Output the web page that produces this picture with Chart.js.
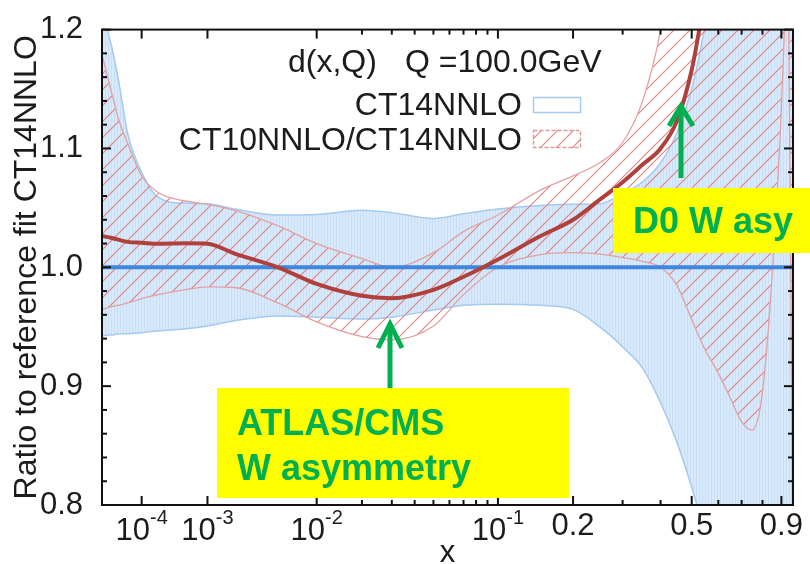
<!DOCTYPE html>
<html>
<head>
<meta charset="utf-8">
<script src="https://cdn.jsdelivr.net/npm/chart.js@4.4.1/dist/chart.umd.min.js"></script>
<style>
  html, body { margin: 0; padding: 0; background: #fff; }
  #wrap { width: 810px; height: 564px; }
</style>
</head>
<body>
<div id="wrap"><canvas id="chartCanvas" width="810" height="564"></canvas></div>
<script>
// x grid shared by both uncertainty bands
const xGrid = [1e-5, 1.5e-5, 2e-5, 3e-5, 5e-5, 1e-4, 2e-4, 5e-4, 1e-3, 2e-3, 5e-3, 1e-2, 2e-2, 3e-2, 5e-2, 7e-2,
  0.1, 0.15, 0.2, 0.25, 0.3, 0.35, 0.4, 0.45, 0.5, 0.55, 0.6, 0.65, 0.7, 0.75, 0.8, 0.85, 0.9, 0.93, 0.966];

// CT14NNLO error band (blue)
const ct14Upper = [1.24, 1.20, 1.185, 1.158, 1.113, 1.080, 1.059, 1.054, 1.0535, 1.049, 1.044, 1.0445, 1.048, 1.046, 1.041, 1.045,
  1.049, 1.052, 1.053, 1.0535, 1.062, 1.072, 1.088, 1.113, 1.150, 1.205, 1.27, 1.33, 1.40, 1.45, 1.50, 1.50, 1.50, 1.50, 1.50];
const ct14Lower = [0.942, 0.943, 0.943, 0.944, 0.944, 0.945, 0.9465, 0.948, 0.9506, 0.955, 0.959, 0.958, 0.9564, 0.958, 0.964, 0.968,
  0.969, 0.968, 0.9646, 0.9498, 0.933, 0.915, 0.886, 0.853, 0.815, 0.775, 0.74, 0.70, 0.70, 0.70, 0.70, 0.70, 0.70, 0.70, 0.70];

// CT10NNLO/CT14NNLO band (red hatched)
const ct10Upper = [1.179, 1.16, 1.146, 1.125, 1.1045, 1.077, 1.063, 1.056, 1.053, 1.048, 1.035, 1.020, 1.0074, 1.000, 1.0123, 1.030,
  1.044, 1.065, 1.077, 1.088, 1.105, 1.14, 1.20, 1.30, 1.40, 1.40, 1.40, 1.40, 1.40, 1.40, 1.40, 1.40, 1.40, 1.40, 0.70];
const ct10Lower = [0.9646, 0.966, 0.967, 0.968, 0.970, 0.9737, 0.977, 0.981, 0.9835, 0.983, 0.970, 0.954, 0.9416, 0.939, 0.9506, 0.977,
  1.000, 1.0107, 1.0123, 1.011, 1.0082, 1.005, 1.000, 0.985, 0.956, 0.930, 0.911, 0.890, 0.870, 0.863, 0.895, 0.993, 1.133, 1.25, 1.35];

// central CT10NNLO/CT14NNLO ratio
const centralX = [1e-5, 2e-5, 5e-5, 1e-4, 2e-4, 5e-4, 1e-3, 2e-3, 5e-3, 1e-2, 2e-2, 3e-2, 5e-2, 7e-2,
  0.1, 0.15, 0.2, 0.25, 0.3, 0.35, 0.4, 0.45, 0.5, 0.55];
const centralY = [1.0263, 1.0247, 1.0214, 1.0206, 1.0198, 1.0202, 1.0198, 1.0115, 1.000, 0.986, 0.976, 0.974, 0.981, 0.992,
  1.0066, 1.0263, 1.040, 1.057, 1.0716, 1.0864, 1.100, 1.123, 1.166, 1.23];

// reference line
const refX = [1e-5, 0.966];
const refY = [1.0, 1.0];

// axes
const X_MIN = 1e-5, X_MAX = 0.966;
const xTickVals = [1e-4, 1e-3, 1e-2, 0.1, 0.2, 0.5, 0.9];
const xTickLabels = [['10', '-4'], ['10', '-3'], ['10', '-2'], ['10', '-1'], ['0.2'], ['0.5'], ['0.9']];
const xMinorVals = [0.02, 0.03, 0.04, 0.05, 0.06, 0.07, 0.08, 0.09, 0.3, 0.4, 0.6, 0.7, 0.8];
const yMajorStep = 0.1, yMinorStep = 0.02;

// the horizontal axis is x^0.22
const POW = 0.22;
const tx = v => Math.pow(v, POW);
const pts = (xs, ys) => xs.map((v, i) => ({ x: tx(v), y: ys[i] }));

const FONT = '"Liberation Sans", Arial, sans-serif';
const TEXT = '#1c1c1c';

const canvas = document.getElementById('chartCanvas');
const ctx = canvas.getContext('2d');

function bluePattern() {
  const c = document.createElement('canvas');
  c.width = 3; c.height = 3;
  const g = c.getContext('2d');
  g.fillStyle = '#d7e9fa';
  g.fillRect(0, 0, 3, 3);
  g.fillStyle = '#c9dff5';
  g.fillRect(0, 0, 1, 3);
  return ctx.createPattern(c, 'repeat');
}

function hatchPattern() {
  const s = 16;
  const c = document.createElement('canvas');
  c.width = s; c.height = s;
  const g = c.getContext('2d');
  g.strokeStyle = 'rgb(226,128,128)';
  g.lineWidth = 1.1;
  g.beginPath();
  g.moveTo(-2, s + 2); g.lineTo(s + 2, -2);
  g.moveTo(-2, 2); g.lineTo(2, -2);
  g.moveTo(s - 2, s + 2); g.lineTo(s + 2, s - 2);
  g.stroke();
  return ctx.createPattern(c, 'repeat');
}

const hatch = hatchPattern();

const decor = {
  id: 'decor',
  afterDraw(chart) {
    const c = chart.ctx;
    const a = chart.chartArea;
    const xs = chart.scales.x, ys = chart.scales.y;
    c.save();

    // frame
    c.strokeStyle = '#111';
    c.lineWidth = 2;
    c.strokeRect(a.left, a.top, a.right - a.left, a.bottom - a.top);

    // inward ticks
    const tick = (x1, y1, x2, y2) => { c.beginPath(); c.moveTo(x1, y1); c.lineTo(x2, y2); c.stroke(); };
    xTickVals.forEach(v => {
      const p = xs.getPixelForValue(tx(v));
      tick(p, a.bottom, p, a.bottom - 9);
      tick(p, a.top, p, a.top + 9);
    });
    xMinorVals.forEach(v => {
      const p = xs.getPixelForValue(tx(v));
      tick(p, a.bottom, p, a.bottom - 5);
      tick(p, a.top, p, a.top + 5);
    });
    for (let v = ys.min; v <= ys.max + 1e-9; v += yMinorStep) {
      const p = ys.getPixelForValue(v);
      const major = Math.abs(v / yMajorStep - Math.round(v / yMajorStep)) < 1e-6;
      const l = major ? 9 : 5;
      tick(a.left, p, a.left + l, p);
      tick(a.right, p, a.right - l, p);
    }

    // x tick labels with superscripts
    c.fillStyle = TEXT;
    c.textBaseline = 'alphabetic';
    xTickVals.forEach((v, i) => {
      const p = xs.getPixelForValue(tx(v));
      const lab = xTickLabels[i];
      c.font = '31px ' + FONT;
      if (lab.length === 1) {
        c.textAlign = 'center';
        c.fillText(lab[0], p, 535);
      } else {
        const wb = c.measureText(lab[0]).width;
        c.font = '20px ' + FONT;
        const we = c.measureText(lab[1]).width;
        const left = p - (wb + we) / 2;
        c.textAlign = 'left';
        c.font = '31px ' + FONT;
        c.fillText(lab[0], left, 540);
        c.font = '20px ' + FONT;
        c.fillText(lab[1], left + wb, 524);
      }
    });

    // x axis title
    c.font = '31px ' + FONT;
    c.textAlign = 'center';
    c.fillText('x', (a.left + a.right) / 2, 562);

    // legend
    c.font = '32px ' + FONT;
    c.textAlign = 'left';
    c.fillText('d(x,Q)', 288, 72);
    c.fillText('Q =100.0GeV', 405, 72);
    c.textAlign = 'right';
    c.fillText('CT14NNLO', 522, 115);
    c.fillText('CT10NNLO/CT14NNLO', 522, 150);
    c.strokeStyle = '#a6cbf0';
    c.lineWidth = 1.5;
    c.strokeRect(533.5, 97.5, 47, 15);
    c.fillStyle = hatch;
    c.fillRect(533, 130, 48, 18);
    c.setLineDash([4, 2]);
    c.strokeStyle = '#dc9a9a';
    c.strokeRect(533.5, 130.5, 47, 17);
    c.setLineDash([]);

    // annotations
    const green = '#00b050';
    c.fillStyle = '#ffff00';
    c.fillRect(217, 388, 352, 110);
    c.fillRect(613, 188, 197, 65);
    c.fillStyle = green;
    c.font = 'bold 36px ' + FONT;
    c.textAlign = 'left';
    c.fillText('ATLAS/CMS', 237, 435);
    c.fillText('W asymmetry', 237, 480);
    c.fillText('D0 W asy', 633, 233);

    c.strokeStyle = green;
    c.lineWidth = 5;
    c.lineCap = 'butt';
    c.lineJoin = 'miter';
    tick(390, 388, 390, 326);
    c.beginPath(); c.moveTo(378, 348); c.lineTo(390, 324); c.lineTo(402, 348); c.stroke();
    tick(681, 178, 681, 110);
    c.beginPath(); c.moveTo(669, 126); c.lineTo(681, 106); c.lineTo(693, 126); c.stroke();

    c.restore();
  }
};

new Chart(ctx, {
  type: 'line',
  data: {
    datasets: [
      { label: 'CT14 upper', data: pts(xGrid, ct14Upper), fill: '+1', backgroundColor: bluePattern(),
        borderColor: '#a3caf0', borderWidth: 1.5, order: 6 },
      { label: 'CT14 lower', data: pts(xGrid, ct14Lower), fill: false,
        borderColor: '#a3caf0', borderWidth: 1.5, order: 5 },
      { label: 'CT10 upper', data: pts(xGrid, ct10Upper), fill: '+1', backgroundColor: hatch,
        borderColor: '#e3a0a0', borderWidth: 1.3, order: 4 },
      { label: 'CT10 lower', data: pts(xGrid, ct10Lower), fill: false,
        borderColor: '#e3a0a0', borderWidth: 1.3, order: 3 },
      { label: 'ref', data: pts(refX, refY), fill: false, borderColor: '#3f86e0', borderWidth: 4, order: 2 },
      { label: 'CT10NNLO/CT14NNLO', data: pts(centralX, centralY), fill: false,
        borderColor: '#b0403b', borderWidth: 4, order: 1 }
    ]
  },
  options: {
    responsive: false,
    devicePixelRatio: 1,
    animation: false,
    layout: { padding: { top: 19, right: 17, left: 0, bottom: 0 } },
    elements: {
      point: { radius: 0, hoverRadius: 0 },
      line: { cubicInterpolationMode: 'monotone' }
    },
    plugins: { legend: { display: false }, tooltip: { enabled: false } },
    scales: {
      x: {
        type: 'linear',
        min: tx(X_MIN),
        max: tx(X_MAX),
        ticks: { display: false },
        grid: { display: false },
        border: { display: false },
        afterFit: s => { s.height = 59; }
      },
      y: {
        type: 'linear',
        min: 0.8,
        max: 1.2,
        ticks: {
          stepSize: yMajorStep,
          padding: 11,
          color: TEXT,
          font: { family: FONT, size: 31 },
          callback: v => Number(v).toFixed(1)
        },
        grid: { display: false },
        border: { display: false },
        title: {
          display: true,
          text: 'Ratio to reference fit CT14NNLO',
          color: TEXT,
          font: { family: FONT, size: 32 },
          padding: { top: 8, bottom: 0 }
        },
        afterFit: s => { s.width = 102; }
      }
    }
  },
  plugins: [decor]
});
</script>
</body>
</html>
